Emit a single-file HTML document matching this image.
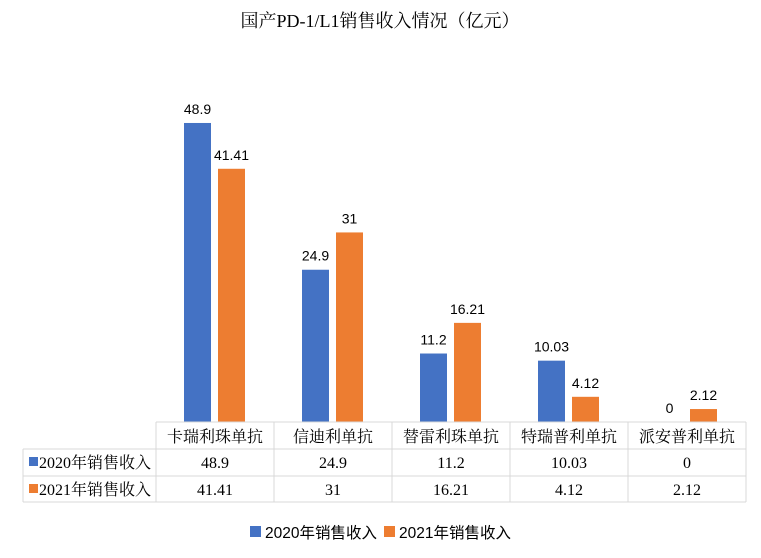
<!DOCTYPE html>
<html><head><meta charset="utf-8"><style>
body{margin:0;background:#fff;}
svg{display:block;}
.ser{font-family:"Liberation Serif","Noto Serif CJK SC",serif;}
.san{font-family:"Liberation Sans","Noto Sans CJK SC",sans-serif;}
</style></head><body>
<svg id="c" width="761" height="558" xmlns="http://www.w3.org/2000/svg">
<text x="380" y="27" text-anchor="middle" font-size="18" class="ser" fill="#000">国产PD-1/L1销售收入情况（亿元）</text>
<g id="bars"></g><g id="tbl"></g>
<g>
<rect x="250" y="526" width="11" height="11" fill="#4472C4"/>
<text x="265" y="538" font-size="15.5" class="san">2020年销售收入</text>
<rect x="384" y="526" width="11" height="11" fill="#ED7D31"/>
<text x="399" y="538" font-size="15.5" class="san">2021年销售收入</text>
</g>
</svg>
<script>
const categories=["卡瑞利珠单抗","信迪利单抗","替雷利珠单抗","特瑞普利单抗","派安普利单抗"];
const values2020=[48.9,24.9,11.2,10.03,0];
const values2021=[41.41,31,16.21,4.12,2.12];
const seriesNames=["2020年销售收入","2021年销售收入"];
const colors=["#4472C4","#ED7D31"];
const NS="http://www.w3.org/2000/svg";
const x0=156,cw=118,base=422,k=6.115;
function xC(i){return x0+cw*i+cw/2;}
function yV(v){return base-v*k;}
function mk(t,a,p,txt){const e=document.createElementNS(NS,t);for(const q in a)e.setAttribute(q,a[q]);if(txt!==undefined)e.textContent=txt;p.appendChild(e);return e;}
const bars=document.getElementById('bars'),tbl=document.getElementById('tbl');
[values2020,values2021].forEach((vals,s)=>{vals.forEach((v,i)=>{
 const x=xC(i)+(s===0?-31:3);
 const r=mk('rect',{x:x,y:yV(v),width:27,height:v*k,fill:colors[s]},bars);
 
 
 const t=mk('text',{x:x+13.5,y:yV(v)-9,'text-anchor':'middle','font-size':14,class:'san',fill:'#000'},bars,String(v));
 
 
});});
const lc='#d9d9d9';
const rows=[422,449,476,502];
mk('line',{x1:x0,y1:422,x2:x0+cw*5,y2:422,stroke:lc},tbl);
[449,476,502].forEach(y=>mk('line',{x1:23,y1:y,x2:x0+cw*5,y2:y,stroke:lc},tbl));
mk('line',{x1:23,y1:449,x2:23,y2:502,stroke:lc},tbl);
for(let i=0;i<=5;i++)mk('line',{x1:x0+cw*i,y1:422,x2:x0+cw*i,y2:502,stroke:lc},tbl);
categories.forEach((c,i)=>{
 const t=mk('text',{x:xC(i),y:442,'text-anchor':'middle','font-size':16,class:'ser'},tbl,c);
 
 
});
[values2020,values2021].forEach((vals,s)=>{
 const y=rows[s+1]+19;
 mk('rect',{x:29,y:y-11,width:9,height:9,fill:colors[s]},tbl);
 const h=mk('text',{x:39,y:y,'font-size':16,class:'ser'},tbl,seriesNames[s]);
 
 
 vals.forEach((v,i)=>{
  const t=mk('text',{x:xC(i),y:y,'text-anchor':'middle','font-size':16,class:'ser'},tbl,String(v));
  
  
 });
});
</script>
</body></html>
